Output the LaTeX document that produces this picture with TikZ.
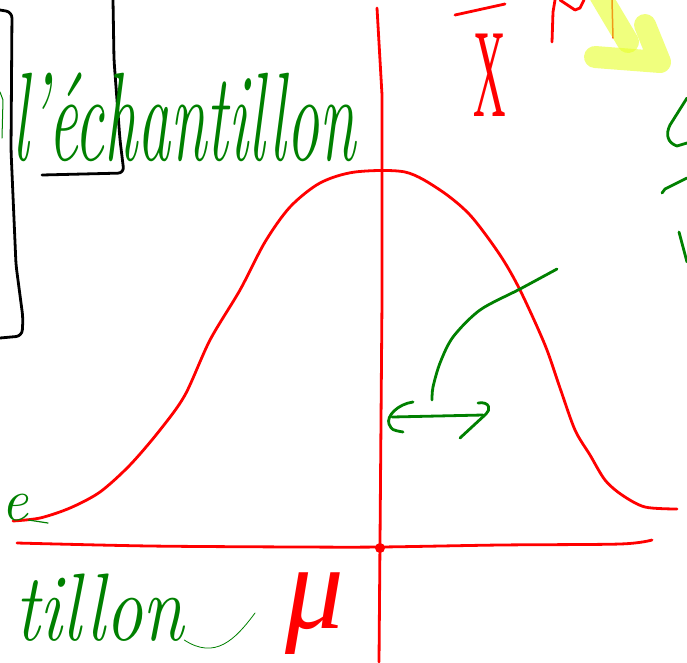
\documentclass[tikz,border=0pt]{standalone}
\usepackage{fontspec}
\newfontfamily\symfont{Liberation Serif}
\definecolor{pen}{RGB}{0,128,0}
\definecolor{ink}{RGB}{255,0,0}
\definecolor{hl}{RGB}{230,255,40}
\begin{document}
\begin{tikzpicture}[x=1pt,y=-1pt,line cap=round,line join=round,
  redline/.style={draw=ink,line width=2.8pt},
  greenline/.style={draw=pen,line width=2.8pt},
  blackline/.style={draw=black,line width=2.8pt},
  marker/.style={draw=hl,line width=22pt,opacity=0.6},
  hand/.style={text=pen,inner sep=0pt,font=\fontsize{60}{60}\selectfont\itshape},
  redtext/.style={text=ink,inner sep=0pt,font=\fontsize{90}{90}\selectfont\symfont\itshape}]
\useasboundingbox (0,0) rectangle (687,662);
% black boxes
\draw[blackline,rounded corners=6pt] (0,10) -- (12,12) -- (11,150) -- (16,265) -- (23,318) -- (22,336) -- (0,338);
\draw[blackline,rounded corners=6pt] (113,0) -- (114,60) -- (120,140) -- (124,173) -- (42,175);
% axes
\draw[redline] (377,8) -- (382,95) -- (382,300) -- (379,662);
\draw[redline] plot[smooth] coordinates {(17,543) (150,546) (300,547) (380,547) (500,545) (620,544) (652,540)};
\fill[ink] (380,548) circle (5pt);
% bell curve
\draw[redline] plot[smooth] coordinates {(13,521) (40,518) (70,508) (100,492) (130,465) (160,430) (185,395) (210,340) (240,290) (265,242) (290,207) (320,183) (355,172) (405,172) (440,190) (470,215) (500,255) (520,290) (545,345) (560,388) (575,430) (590,455) (605,480) (622,495) (645,507) (677,509)};
% green arrow
\draw[greenline] plot[smooth] coordinates {(557,269) (520,289) (480,310) (453,337) (440,363) (433,387) (432,400)};
\draw[greenline] (392,417) -- (483,415);
\draw[greenline] (413,402) .. controls (398,404) and (386,416) .. (389,424) .. controls (392,430) .. (403,432);
\draw[greenline] (478,403) .. controls (490,401) and (491,410) .. (486,414) -- (460,438);
% red partial strokes top
\draw[redline] (552,42) -- (553,12) -- (555,0);
\draw[redline] (560,0) -- (575,10) -- (580,8) -- (584,0);
\draw[redline,line width=1.5pt] (612,0) -- (613,38);
% highlighter
\draw[marker] (600,-5) -- (628,42);
\draw[marker] (645,25) -- (660,62) -- (595,57);
% green partial strokes right and left
\draw[greenline] (687,98) -- (670,125) .. controls (665,135) and (668,143) .. (677,146) -- (687,143);
\draw[greenline] (662,193) -- (665,189) -- (687,178);
\draw[greenline] (679,232) -- (687,262);
\draw[greenline,line width=1pt] (0,92) -- (3,100) -- (2,138);
% texts
\node[hand,anchor=base west,xscale=1.1,yscale=2.1] (t1) at (12,160) {l'échantillon};
\node[hand,anchor=base west,xscale=1.25,yscale=1.6] (t2) at (15,640) {tillon};
\draw[pen,line width=0.8pt] (t2.base east) .. controls (215,660) and (235,640) .. (255,613);
\node[hand,anchor=base west] (t3) at (1,520) {e};
\draw[greenline,line width=1.2pt] (t3.base east) -- (48,523);
\node[redtext,anchor=base west,xscale=1.3,yscale=1.35] (mu) at (285,628) {μ};
\node[redtext,font=\fontsize{90}{90}\selectfont\symfont,anchor=base,xscale=0.5,yscale=1.4] (xbar) at (490,116) {X};
\draw[redline] (455,15) -- (505,4);
\end{tikzpicture}
\end{document}
